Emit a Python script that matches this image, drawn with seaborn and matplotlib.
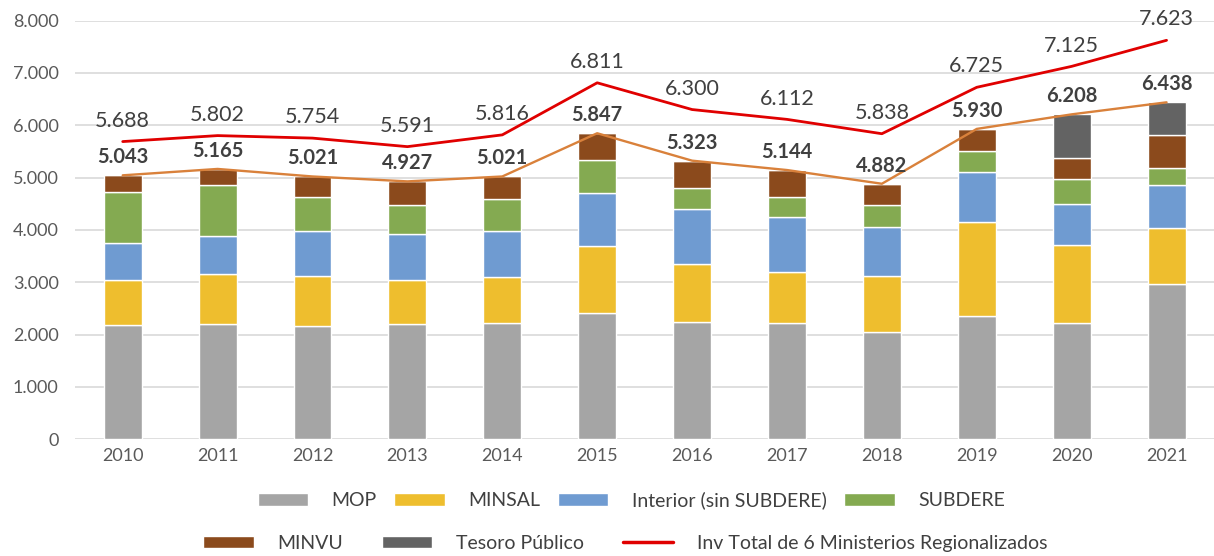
import numpy as np
import pandas as pd
import matplotlib
matplotlib.use("Agg")
import matplotlib.pyplot as plt
from matplotlib.patches import Patch
from matplotlib.lines import Line2D
import seaborn as sns

# datos (millones)
years = ['2010', '2011', '2012', '2013', '2014', '2015',
         '2016', '2017', '2018', '2019', '2020', '2021']
mop = [2182, 2205, 2155, 2202, 2226, 2408, 2248, 2229, 2047, 2359, 2224, 2974]
minsal = [865, 945, 962, 845, 871, 1284, 1106, 963, 1079, 1785, 1496, 1065]
interior = [710, 731, 871, 872, 891, 1007, 1053, 1053, 936, 960, 767, 819]
subdere = [968, 972, 645, 556, 600, 645, 387, 375, 414, 413, 490, 322]
minvu = [318, 312, 388, 452, 433, 503, 529, 524, 406, 413, 400, 626]
tesoro = [0, 0, 0, 0, 0, 0, 0, 0, 0, 0, 831, 632]
total_6 = [5043, 5165, 5021, 4927, 5021, 5847, 5323, 5144, 4882, 5930, 6208, 6438]
inv_total = [5688, 5802, 5754, 5591, 5816, 6811, 6300, 6112, 5838, 6725, 7125, 7623]

series = ['MOP', 'MINSAL', 'Interior (sin SUBDERE)', 'SUBDERE', 'MINVU', 'Tesoro Público']
colores = ['#A5A5A5', '#EEBE2E', '#6F9BD1', '#84AA51', '#8B4A1C', '#636363']
valores = [mop, minsal, interior, subdere, minvu, tesoro]

sns.set_style('white')
plt.rcParams['font.family'] = ['Lato', 'DejaVu Sans']

fig = plt.figure(figsize=(12.14, 5.56), dpi=100)
ax = fig.add_axes([0.062, 0.21, 0.938, 0.753])

base = np.zeros(len(years))
for nombre, col, vals in zip(series, colores, valores):
    sns.barplot(x=years, y=vals, bottom=base, color=col, width=0.4,
                saturation=1, ax=ax, zorder=2)
    base = base + np.array(vals)

pos = np.arange(len(years))
sns.lineplot(x=pos, y=total_6, color='#D9813B', linewidth=1.7, ax=ax, zorder=3)
sns.lineplot(x=pos, y=inv_total, color='#E00000', linewidth=2.0, ax=ax, zorder=3)

# etiquetas
for i in range(len(years)):
    ax.annotate(f'{total_6[i]:,}'.replace(',', '.'), (i, total_6[i]),
                xytext=(0, 13), textcoords='offset points', ha='center', va='center',
                fontsize=14.5, fontweight='bold', color='#404040', zorder=4)
    ax.annotate(f'{inv_total[i]:,}'.replace(',', '.'), (i, inv_total[i]),
                xytext=(0, 15), textcoords='offset points', ha='center', va='center',
                fontsize=15.5, color='#404040', zorder=4)

ax.set_xlim(-0.5, 11.5)
ax.set_ylim(0, 8000)
ax.set_yticks(range(0, 8001, 1000))
ax.set_yticklabels([f'{v:,}'.replace(',', '.') for v in range(0, 8001, 1000)])
ax.yaxis.grid(True, color='#D9D9D9', linewidth=1.2, zorder=0)
ax.set_axisbelow(True)
for s in ax.spines.values():
    s.set_visible(False)
ax.tick_params(axis='both', length=0, labelsize=13, colors='#595959', pad=6)
ax.tick_params(axis='y', pad=12)
ax.set_xlabel('')
ax.set_ylabel('')

h1 = [Patch(facecolor=c, label=n) for n, c in zip(series[:4], colores[:4])]
h2 = [Patch(facecolor=c, label=n) for n, c in zip(series[4:], colores[4:])]
h2.append(Line2D([0], [0], color='#E00000', linewidth=2.5,
                 label='Inv Total de 6 Ministerios Regionalizados'))

leg1 = fig.legend(handles=h1, loc='center', bbox_to_anchor=(0.52, 0.10), ncol=4,
                  frameon=False, fontsize=14, handlelength=2.6, handleheight=0.6,
                  columnspacing=0.9, handletextpad=1.2, labelcolor='#404040')
leg2 = fig.legend(handles=h2, loc='center', bbox_to_anchor=(0.515, 0.023), ncol=3,
                  frameon=False, fontsize=14, handlelength=2.6, handleheight=0.6,
                  columnspacing=2.0, handletextpad=1.2, labelcolor='#404040')

plt.savefig('out.png', dpi=100)
